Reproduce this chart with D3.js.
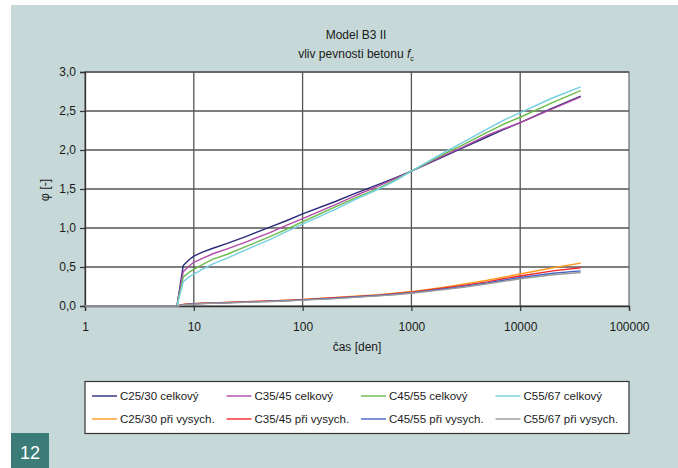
<!DOCTYPE html>
<html>
<head>
<meta charset="utf-8">
<script src="https://cdn.jsdelivr.net/npm/d3@7"></script>
<style>
  html, body { margin: 0; padding: 0; background: #ffffff; }
  svg { display: block; font-family: "Liberation Sans", Arial, Helvetica, sans-serif; }
</style>
</head>
<body>
<svg id="chart" width="678" height="468"></svg>
<script>
// Time axis (days) shared by every series
const days = [1, 7, 8, 9, 10, 12, 15, 20, 30, 50, 70, 100, 200, 300, 500, 700, 1000, 2000, 3000, 5000, 7000, 10000, 20000, 36000];

// Total creep coefficient
const c25Total = [0, 0, 0.52, 0.59, 0.64, 0.69, 0.74, 0.80, 0.89, 1.01, 1.09, 1.18, 1.34, 1.44, 1.56, 1.64, 1.73, 1.92, 2.03, 2.17, 2.26, 2.35, 2.54, 2.69];
const c35Total = [0, 0, 0.44, 0.51, 0.56, 0.61, 0.67, 0.73, 0.82, 0.94, 1.03, 1.12, 1.30, 1.41, 1.54, 1.63, 1.73, 1.93, 2.04, 2.19, 2.27, 2.35, 2.53, 2.68];
const c45Total = [0, 0, 0.37, 0.43, 0.47, 0.53, 0.60, 0.66, 0.76, 0.89, 0.98, 1.08, 1.27, 1.38, 1.51, 1.61, 1.73, 1.95, 2.07, 2.23, 2.33, 2.42, 2.61, 2.76];
const c55Total = [0, 0, 0.31, 0.37, 0.41, 0.47, 0.54, 0.61, 0.72, 0.85, 0.95, 1.05, 1.24, 1.36, 1.50, 1.60, 1.73, 1.97, 2.10, 2.27, 2.38, 2.48, 2.67, 2.81];

// Drying part of creep
const c25Dry = [0, 0, 0.020, 0.025, 0.030, 0.035, 0.040, 0.045, 0.055, 0.065, 0.075, 0.085, 0.110, 0.125, 0.145, 0.165, 0.185, 0.240, 0.280, 0.330, 0.370, 0.410, 0.490, 0.550];
const c35Dry = [0, 0, 0.020, 0.025, 0.030, 0.035, 0.040, 0.045, 0.055, 0.065, 0.072, 0.082, 0.105, 0.120, 0.140, 0.158, 0.178, 0.230, 0.265, 0.310, 0.350, 0.385, 0.450, 0.490];
const c45Dry = [0, 0, 0.018, 0.022, 0.027, 0.032, 0.037, 0.042, 0.050, 0.060, 0.068, 0.078, 0.100, 0.115, 0.135, 0.150, 0.170, 0.220, 0.250, 0.295, 0.330, 0.365, 0.420, 0.450];
const c55Dry = [0, 0, 0.015, 0.020, 0.024, 0.030, 0.035, 0.040, 0.048, 0.057, 0.065, 0.075, 0.095, 0.110, 0.130, 0.145, 0.163, 0.210, 0.240, 0.285, 0.315, 0.350, 0.400, 0.430];

const seriesNames = ["C25/30 celkový", "C35/45 celkový", "C45/55 celkový", "C55/67 celkový",
                     "C25/30 při vysych.", "C35/45 při vysych.", "C45/55 při vysych.", "C55/67 při vysych."];
const seriesValues = [c25Total, c35Total, c45Total, c55Total, c25Dry, c35Dry, c45Dry, c55Dry];
const seriesColors = ["#2c2b7a", "#b04aa8", "#6dbb4c", "#74cfe0", "#ff9a1e", "#f42828", "#4563c2", "#9a9a9a"];

const xTicks = [1, 10, 100, 1000, 10000, 100000];
const yTicks = [0, 0.5, 1.0, 1.5, 2.0, 2.5, 3.0];

const svg = d3.select("#chart");

// panel background
svg.append("rect").attr("x", 11).attr("y", 5).attr("width", 667).attr("height", 463).attr("fill", "#c6d9d8");

const plot = { left: 85, right: 629, top: 72, bottom: 306 };
const x = d3.scaleLog().domain([1, 100000]).range([plot.left, plot.right]);
const y = d3.scaleLinear().domain([0, 3]).range([plot.bottom, plot.top]);

// plot area
svg.append("rect")
  .attr("x", plot.left).attr("y", plot.top)
  .attr("width", plot.right - plot.left).attr("height", plot.bottom - plot.top)
  .attr("fill", "#ffffff").attr("stroke", "#6a6a6a").attr("stroke-width", 1.2);

// grid
const grid = svg.append("g").attr("stroke", "#555555").attr("stroke-width", 1.3);
grid.selectAll("line.h").data(yTicks.slice(1)).join("line")
  .attr("x1", plot.left).attr("x2", plot.right)
  .attr("y1", d => y(d)).attr("y2", d => y(d));
grid.selectAll("line.v").data(xTicks.slice(1, -1)).join("line")
  .attr("y1", plot.top).attr("y2", plot.bottom)
  .attr("x1", d => x(d)).attr("x2", d => x(d));

const fmt = d => d3.format(".1f")(d).replace(".", ",");

// axes
const yAxis = svg.append("g").attr("transform", `translate(${plot.left},0)`)
  .call(d3.axisLeft(y).tickValues(yTicks).tickFormat(fmt).tickSize(5).tickPadding(4));
const xAxis = svg.append("g").attr("transform", `translate(0,${plot.bottom})`)
  .call(d3.axisBottom(x).tickValues(xTicks).tickFormat(d3.format("d")).tickSize(5).tickPadding(11));
[yAxis, xAxis].forEach(a => {
  a.select(".domain").attr("stroke", "#333333").attr("stroke-width", 1.3);
  a.selectAll(".tick line").attr("stroke", "#333333").attr("stroke-width", 1.2);
  a.selectAll(".tick text").attr("fill", "#1a1a1a").style("font-size", "12px")
    .style("font-family", "'Liberation Sans', Arial, sans-serif");
});

// lines
const line = d3.line().x(d => x(d[0])).y(d => y(d[1]));
svg.append("g").selectAll("path").data(seriesValues).join("path")
  .attr("d", vals => line(days.map((t, i) => [t, vals[i]])))
  .attr("fill", "none")
  .attr("stroke", (d, i) => seriesColors[i])
  .attr("stroke-width", 1.4)
  .attr("stroke-linejoin", "round");

// titles
svg.append("text").attr("x", 356).attr("y", 39).attr("text-anchor", "middle")
  .attr("fill", "#1a1a1a").style("font-size", "12px").text("Model B3 II");
const sub = svg.append("text").attr("x", 356).attr("y", 58).attr("text-anchor", "middle")
  .attr("fill", "#1a1a1a").style("font-size", "12px");
sub.append("tspan").text("vliv pevnosti betonu ");
sub.append("tspan").style("font-style", "italic").text("f");
sub.append("tspan").attr("dy", 3).style("font-size", "7px").text("c");

svg.append("text").attr("x", 357).attr("y", 351).attr("text-anchor", "middle")
  .attr("fill", "#1a1a1a").style("font-size", "12px").text("čas [den]");
svg.append("text").attr("transform", "translate(49,190) rotate(-90)").attr("text-anchor", "middle")
  .attr("fill", "#1a1a1a").style("font-size", "12.5px").text("φ [-]");

// legend
const lg = svg.append("g");
lg.append("rect").attr("x", 85).attr("y", 381.5).attr("width", 544).attr("height", 52)
  .attr("fill", "#ffffff").attr("stroke", "#333333").attr("stroke-width", 1.2);
const items = lg.selectAll("g.item").data(seriesNames).join("g")
  .attr("transform", (d, i) => `translate(${92 + (i % 4) * 134.5},${i < 4 ? 396 : 419})`);
items.append("line").attr("x1", 0).attr("x2", 25).attr("y1", 0).attr("y2", 0)
  .attr("stroke", (d, i) => seriesColors[i]).attr("stroke-width", 1.4);
items.append("text").attr("x", 28).attr("y", 4).attr("fill", "#1a1a1a")
  .style("font-size", "11.5px").text(d => d);

// figure number
svg.append("rect").attr("x", 11).attr("y", 433).attr("width", 38).attr("height", 35).attr("fill", "#3b7b78");
svg.append("text").attr("x", 30).attr("y", 459).attr("text-anchor", "middle")
  .attr("fill", "#ffffff").style("font-size", "18px").text("12");
</script>
</body>
</html>
